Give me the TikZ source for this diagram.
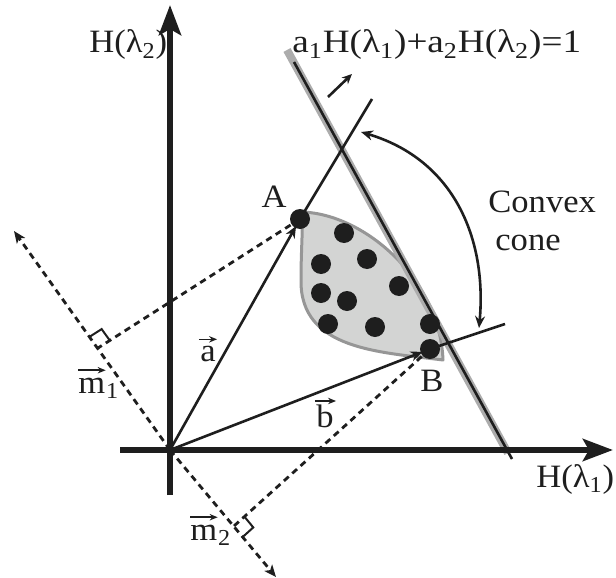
\documentclass[tikz,border=0pt]{standalone}
\usepackage{fontspec}
\setmainfont{Liberation Serif}[FakeStretch=1.06]
\newfontfamily\eqfont{Liberation Serif}[FakeStretch=1.14]
\usetikzlibrary{arrows.meta,calc}
\definecolor{ink}{RGB}{30,30,30}
\definecolor{lgrey}{RGB}{172,172,172}
\definecolor{regfill}{RGB}{211,212,211}
\definecolor{regline}{RGB}{150,150,150}
\begin{document}
\begin{tikzpicture}[x=0.5pt,y=-0.5pt,
  every node/.style={font=\fontsize{16.3}{19.5}\selectfont,inner sep=0pt,text=ink},
  axis/.style={ink,line width=3pt,-{Stealth[length=15pt,width=11pt,inset=3pt]}},
  ray/.style={ink,line width=1.3pt},
  vecarrow/.style={ray,-{Stealth[length=6pt,width=5pt]},shorten >=4pt},
  vecover/.style={ink,line width=0.8pt,-{Stealth[length=4pt,width=3.2pt]}},
  dsh/.style={ink,line width=1.4pt,dash pattern=on 3.2pt off 2.4pt},
  dsharrow/.style={dsh,-{Stealth[length=6pt,width=5pt,inset=1.5pt]}},
  dot/.style={circle,fill=ink,minimum size=10pt,inner sep=0pt},
  rmark/.style={ink,line width=1pt},
  ]
\useasboundingbox (0,0) rectangle (616,578);
% key points
\coordinate (O) at (170,450);
\coordinate (A) at (300,219);
\coordinate (B) at (430,349);
\coordinate (aend) at (372,99);
\coordinate (bend) at (505,324);
\coordinate (M1) at (14,231);
\coordinate (M2) at (276,577);
\coordinate (F1) at (98,348);
\coordinate (F2) at (234,526);
\coordinate (G1) at (287,50);
\coordinate (G2) at (508,453);
\coordinate (K1) at (294,62);
\coordinate (K2) at (512,459);
\coordinate (HL) at (120,450);
\coordinate (HR) at (613,450);
\coordinate (VB) at (170,495);
\coordinate (VT) at (170,5);
\coordinate (S1) at (328,97);
\coordinate (S2) at (352,74);
\coordinate (C1) at (479,328);
\coordinate (C2) at (361,132);

% convex region
\draw[regline,fill=regfill,line width=1.5pt,line join=round]
  (302,212) .. controls (365,214) and (440,280) .. (443,360)
  .. controls (380,352) and (300,350) .. (301,280)
  .. controls (301,250) and (303,230) .. cycle;

% line a1H+a2H=1
\draw[lgrey,line width=4pt] (G1) -- (G2);
\draw[ray] (K1) -- (K2);

% rays
\draw[vecarrow] (O) -- (A);
\draw[ray] (A) -- (aend);
\draw[vecarrow] (O) -- (B);
\draw[ray] (B) -- (bend);

% dashed projections
\draw[dsharrow] (O) -- (M1);
\draw[dsharrow] (O) -- (M2);
\draw[dsh] (A) -- (F1);
\draw[dsh] (B) -- (F2);
\coordinate (P1) at ($(F1)!7pt!(M1)$);
\coordinate (Q1) at ($(F1)!7pt!(A)$);
\draw[rmark] (P1) -- ($(P1)+(Q1)-(F1)$) -- (Q1);
\coordinate (P2) at ($(F2)!7pt!(M2)$);
\coordinate (Q2) at ($(F2)!7pt!(B)$);
\draw[rmark] (P2) -- ($(P2)+(Q2)-(F2)$) -- (Q2);

% small arrow and cone arc
\draw[ray,-{Stealth[length=5pt,width=4.5pt]}] (S1) -- (S2);
\draw[ray,{Stealth[length=6pt,width=5pt]}-{Stealth[length=6pt,width=5pt]}]
  (C1) .. controls (487,240) and (455,160) .. (C2);

% axes
\draw[axis] (HL) -- (HR);
\draw[axis] (VB) -- (VT);

% dots
\node[dot] (dA) at (A) {};
\node[dot] (dB) at (B) {};
\node[dot] (d1) at (344,233) {};
\node[dot] (d2) at (321,264) {};
\node[dot] (d3) at (367,259) {};
\node[dot] (d4) at (321,293) {};
\node[dot] (d5) at (347,301) {};
\node[dot] (d6) at (399,286) {};
\node[dot] (d7) at (328,324) {};
\node[dot] (d8) at (375,327) {};
\node[dot] (d9) at (430,324) {};

% labels
\node[anchor=base west] (lh2) at (89,53) {H(λ\textsubscript{2})};
\node[anchor=base west] (leq) at (292,53) {\eqfont a\textsubscript{1}H(λ\textsubscript{1})+a\textsubscript{2}H(λ\textsubscript{2})=1};
\node[anchor=base west] (lh1) at (536,487) {H(λ\textsubscript{1})};
\node (lA) at (274,197) {A};
\node (lB) at (432,381) {B};
\node[anchor=base] (la) at (208,361) {a};
\draw[vecover] ($(la.north west)+(-1,-6)$) -- ($(la.north east)+(1,-6)$);
\node[anchor=base] (lb) at (325,427) {b};
\draw[vecover] ($(lb.north west)+(-1,-3)$) -- ($(lb.north east)+(2,-3)$);
\node[anchor=base west] (lm1) at (78,393) {m};
\node[anchor=base west] (lm1s) at (lm1.base east) {\textsubscript{1}};
\draw[vecover] ($(lm1.north west)+(0,-7)$) -- ($(lm1.north east)+(0,-7)$);
\node[anchor=base west] (lm2) at (190,540) {m};
\node[anchor=base west] (lm2s) at (lm2.base east) {\textsubscript{2}};
\draw[vecover] ($(lm2.north west)+(0,-7)$) -- ($(lm2.north east)+(0,-7)$);
\node[anchor=base west] (lc1) at (488,212) {Convex};
\node[anchor=base west] (lc2) at (495,250) {cone};
\end{tikzpicture}
\end{document}
